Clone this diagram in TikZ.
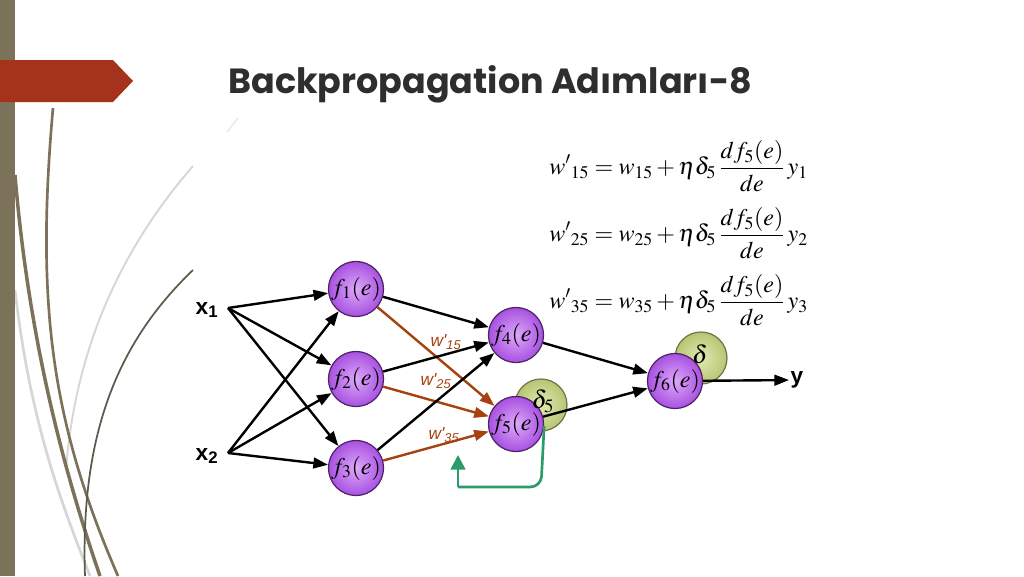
\documentclass[tikz,border=0pt]{standalone}
\usepackage{mathptmx}
\usepackage{fontspec}
\usetikzlibrary{arrows.meta}
\newfontfamily\titlefont{Poppins}
\newfontfamily\lsans{Liberation Sans}
\definecolor{barolive}{HTML}{7B7259}
\definecolor{bannerred}{HTML}{A5321A}
\definecolor{titlegray}{HTML}{2E2E2E}
\definecolor{lightcurve}{HTML}{D6D6D6}
\definecolor{darkcurve}{HTML}{5C5A4C}
\definecolor{vin}{HTML}{DDA8FA}
\definecolor{vout}{HTML}{A851E0}
\definecolor{vborder}{HTML}{4A2266}
\definecolor{gin}{HTML}{E2EAB2}
\definecolor{gout}{HTML}{B8C474}
\definecolor{gborder}{HTML}{6C7440}
\definecolor{wbrown}{HTML}{A5420F}
\definecolor{fbgreen}{HTML}{2E9A6A}
\tikzset{
  fnode/.style={circle, draw=vborder, line width=0.9pt, inner color=vin, outer color=vout,
    minimum size=38pt, inner sep=0pt, font=\fontsize{18}{18}\selectfont},
  dnode/.style={circle, draw=gborder, line width=0.9pt, inner color=gin, outer color=gout,
    minimum size=39pt, inner sep=0pt},
  dtext/.style={inner sep=0pt, font=\fontsize{19}{19}\selectfont},
  conn/.style={line width=1.8pt, -{Triangle[length=11pt,width=8pt]}},
  bconn/.style={conn, draw=wbrown},
  inlab/.style={inner sep=1pt, font=\lsans\bfseries\fontsize{17}{17}\selectfont},
  wlab/.style={text=wbrown, inner sep=0pt, font=\lsans\itshape\fontsize{13}{13}\selectfont},
  eqn/.style={anchor=west, inner sep=0pt, font=\fontsize{18}{20}\selectfont},
}
\begin{document}
\begin{tikzpicture}[x=0.75pt,y=-0.75pt]
\useasboundingbox (0,0) rectangle (1024,576);
\fill[white] (0,0) rectangle (1024,576);
% decorative curves
\draw[lightcurve, line width=2pt] (15,290) .. controls (30,420) and (60,500) .. (90,576);
\draw[lightcurve, line width=1.4pt] (193,166) .. controls (120,250) and (75,350) .. (66,470);
\draw[lightcurve!60, line width=1pt] (238,118) -- (227,132);
\draw[barolive, line width=2.6pt] (15,175) .. controls (28,330) and (60,460) .. (100,576);
\draw[barolive, line width=2pt] (53,108) .. controls (36,300) and (50,420) .. (118,576);
\draw[darkcurve, line width=1.3pt] (193,270) .. controls (120,340) and (80,430) .. (85,576);
% side bar and banner
\fill[barolive] (0,0) rectangle (15,576);
\fill[bannerred] (0,60) -- (113,60) -- (133,81) -- (113,102) -- (0,102) -- cycle;
% title
\node[anchor=base west, inner sep=0pt, text=titlegray, font=\titlefont\bfseries\fontsize{26.2}{27}\selectfont] (title) at (228,93) {Backpropagation Adımları-8};
% equations
\node[eqn] (eq1) at (549,166) {$\displaystyle {w'}_{15} = w_{15} + \eta\delta_5\,\frac{df_5(e)}{de}\,y_1$};
\node[eqn] (eq2) at (549,233) {$\displaystyle {w'}_{25} = w_{25} + \eta\delta_5\,\frac{df_5(e)}{de}\,y_2$};
\node[eqn] (eq3) at (549,300) {$\displaystyle {w'}_{35} = w_{35} + \eta\delta_5\,\frac{df_5(e)}{de}\,y_3$};
% delta circles
\node[dnode] (d5) at (541,405) {};
\node[dnode] (d6) at (701,358) {};
% neurons
\node[fnode] (f1) at (356,289) {$f_1(e)$};
\node[fnode] (f2) at (356,379) {$f_2(e)$};
\node[fnode] (f3) at (356,468) {$f_3(e)$};
\node[fnode] (f4) at (516,335) {$f_4(e)$};
\node[fnode] (f5) at (516,424) {$f_5(e)$};
\node[fnode] (f6) at (675,381) {$f_6(e)$};
% delta texts
\node[dtext] (d5t) at (543,401) {$\delta_5$};
\node[dtext] (d6t) at (700,354) {$\delta$};
% inputs and output
\node[inlab] (x1) at (207,310) {x\textsubscript{1}};
\node[inlab] (x2) at (207,456) {x\textsubscript{2}};
\coordinate (x1o) at (228,308);
\coordinate (x2o) at (228,453);
\node[inlab] (ylab) at (797,380) {y};
% connectors
\foreach \s in {x1o,x2o}{
  \foreach \t in {f1,f2,f3}{
    \draw[conn] (\s) -- (\t);
  }
}
\foreach \s in {f1,f2,f3}{
  \draw[conn] (\s) -- (f4);
  \draw[bconn] (\s) -- (f5);
}
\draw[conn] (f4) -- (f6);
\draw[conn] (f5) -- (f6);
\draw[conn] (f6) -- (ylab);
% weight labels
\node[wlab] (w15) at (446,342) {w'\textsubscript{15}};
\node[wlab] (w25) at (436,381) {w'\textsubscript{25}};
\node[wlab] (w35) at (444,435) {w'\textsubscript{35}};
% feedback arrow
\coordinate (gb) at (458,487);
\coordinate (gt) at (458,455);
\draw[fbgreen, line width=2pt, rounded corners=8pt] (f5.east) ++(0,2) -- (541,487) -- (gb);
\draw[fbgreen, line width=2pt, -{Triangle[length=11pt,width=11pt]}] (gb) -- (gt);
\end{tikzpicture}
\end{document}
